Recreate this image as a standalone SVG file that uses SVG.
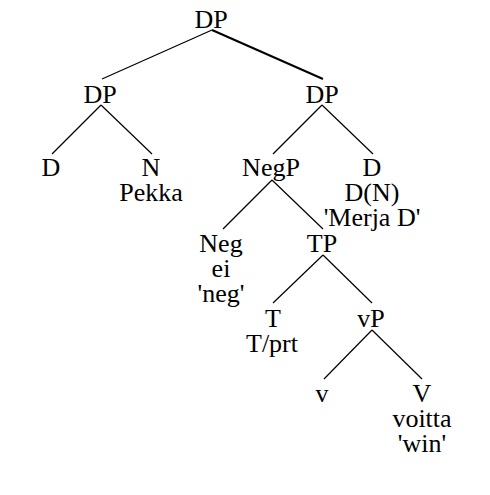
<svg xmlns="http://www.w3.org/2000/svg" width="490" height="495" viewBox="0 0 490 495">
<style>
text{font-family:"Liberation Serif","Times New Roman",serif;font-size:26px;fill:#000;text-anchor:middle}
line{stroke:#000;stroke-width:1.2}
.b{stroke-width:2}
</style>
<rect width="490" height="495" fill="#fff"/>
<g id="connectors">
<line x1="212" y1="30" x2="102" y2="79"/>
<line class="b" x1="212" y1="30" x2="323" y2="79"/>
<line x1="101" y1="105" x2="52" y2="154"/>
<line x1="101" y1="105" x2="152" y2="154"/>
<line x1="322" y1="105" x2="273" y2="154"/>
<line x1="322" y1="105" x2="373" y2="154"/>
<line x1="272" y1="180" x2="223" y2="229"/>
<line x1="272" y1="180" x2="323" y2="229"/>
<line x1="323" y1="255" x2="273" y2="303"/>
<line x1="323" y1="255" x2="372" y2="303"/>
<line x1="372" y1="330" x2="324" y2="379"/>
<line x1="372" y1="330" x2="422" y2="379"/>
</g>
<g id="n-root"><text x="211" y="28">DP</text></g>
<g id="n-dp-left"><text x="100" y="103">DP</text></g>
<g id="n-dp-right"><text x="322" y="103">DP</text></g>
<g id="n-d-left"><text x="51" y="176">D</text></g>
<g id="n-n"><text x="151" y="176">N</text><text x="151" y="201">Pekka</text></g>
<g id="n-negp"><text x="271" y="176">NegP</text></g>
<g id="n-d-right"><text x="372" y="176">D</text><text x="372" y="201">D(N)</text><text x="372" y="226">'Merja D'</text></g>
<g id="n-neg"><text x="221" y="252">Neg</text><text x="221" y="277">ei</text><text x="221" y="302">'neg'</text></g>
<g id="n-tp"><text x="322" y="252">TP</text></g>
<g id="n-t"><text x="273" y="327">T</text><text x="272" y="352">T/prt</text></g>
<g id="n-vp"><text x="371" y="327">vP</text></g>
<g id="n-v"><text x="322" y="402">v</text></g>
<g id="n-V"><text x="422" y="402">V</text><text x="422" y="427">voitta</text><text x="422" y="452">'win'</text></g>
</svg>
